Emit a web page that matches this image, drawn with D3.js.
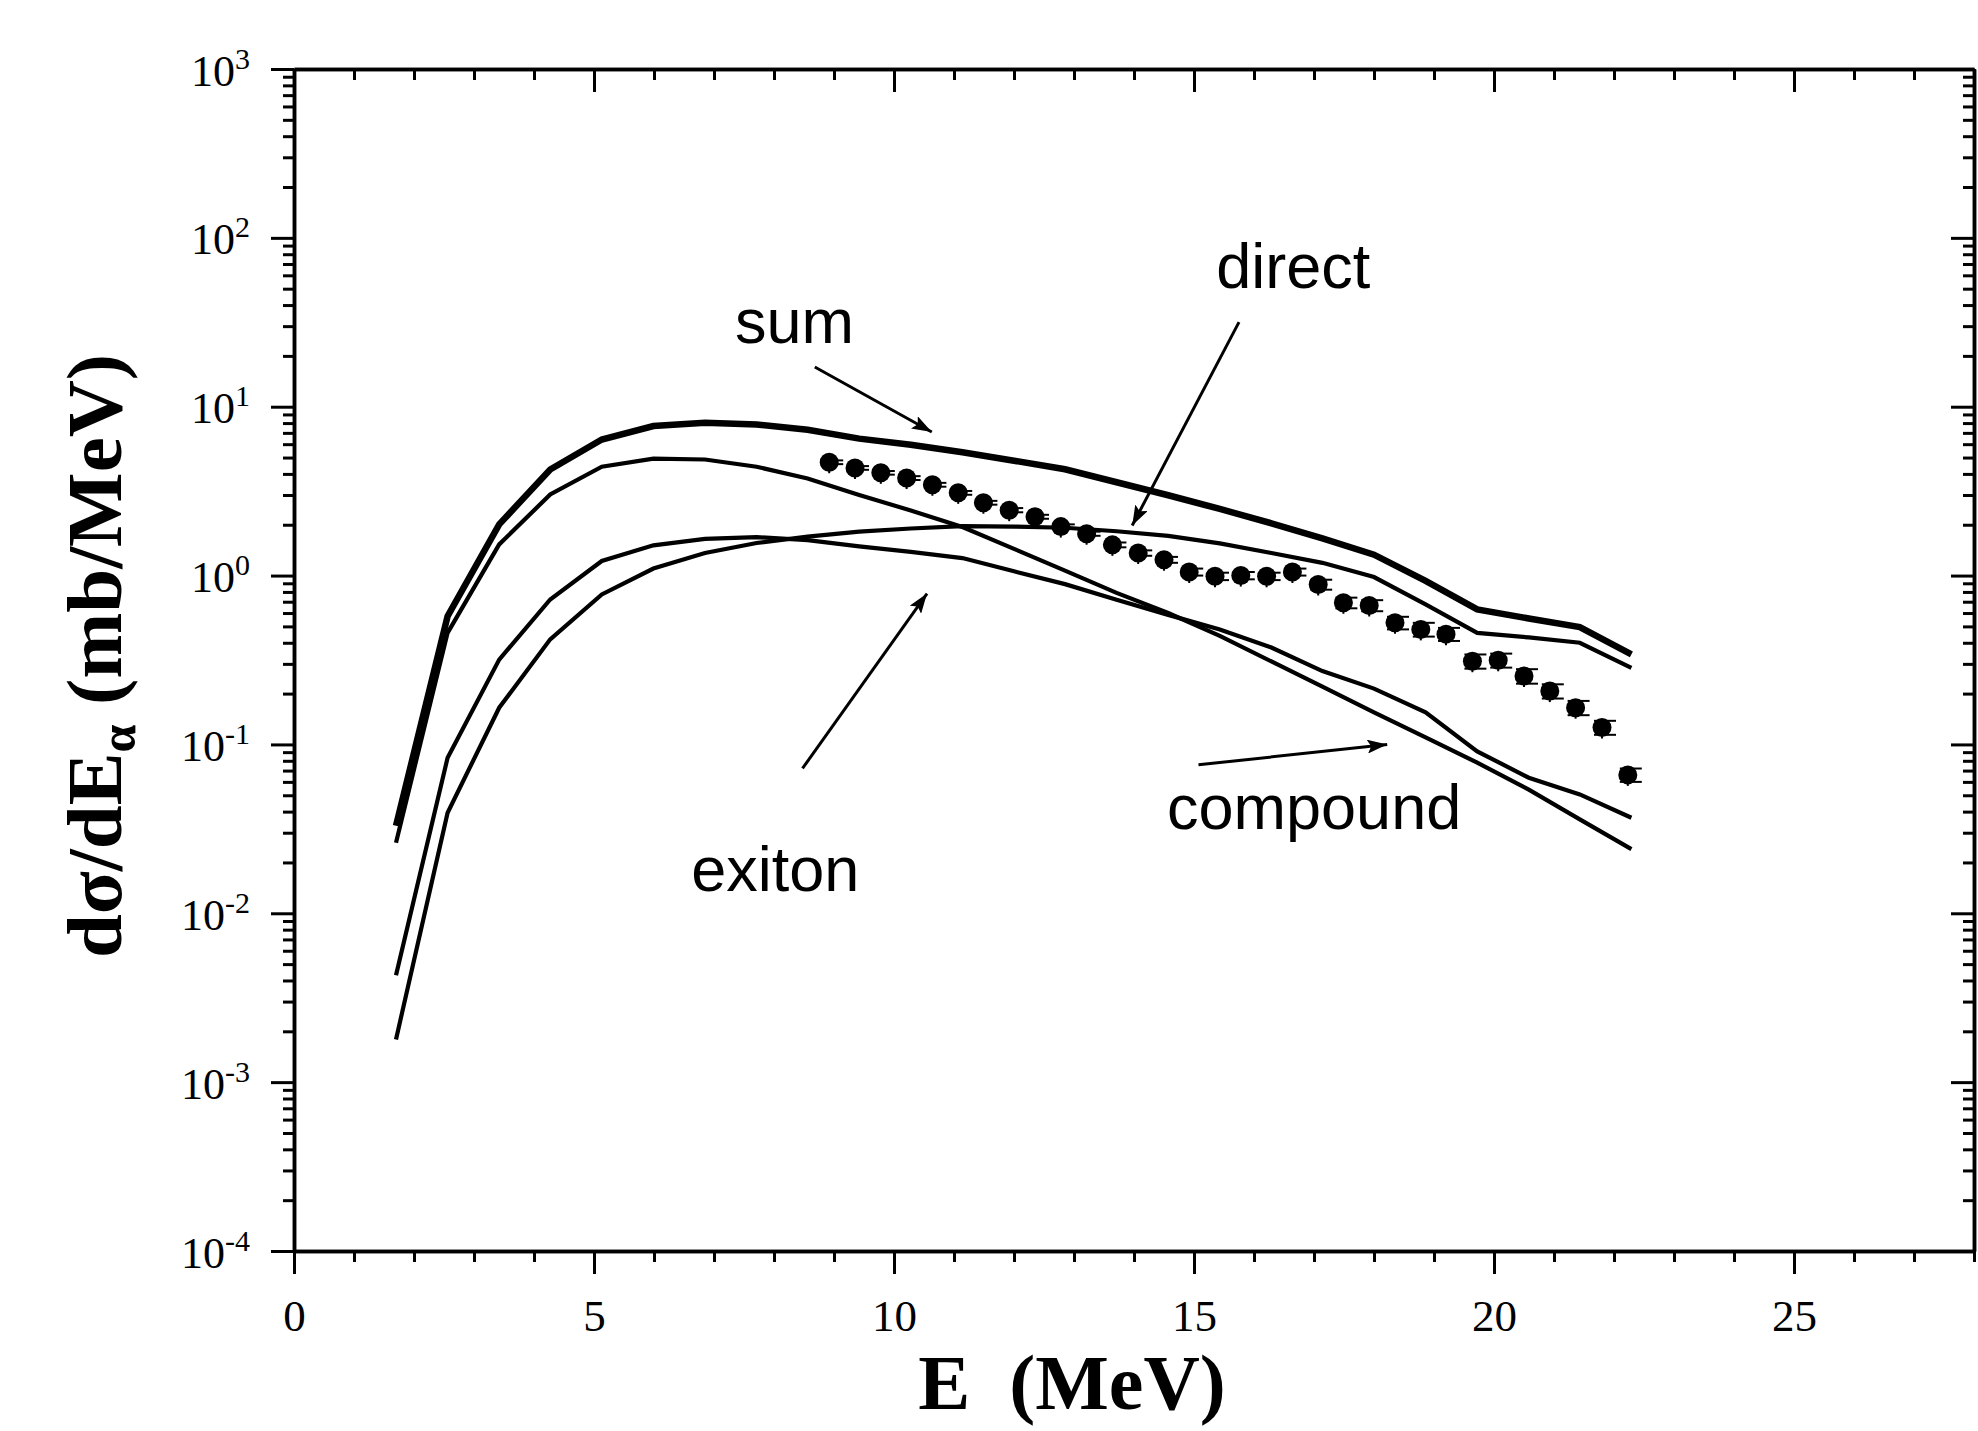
<!DOCTYPE html>
<html>
<head>
<meta charset="utf-8">
<script src="https://cdn.jsdelivr.net/npm/d3@7/dist/d3.min.js"></script>
<style>
    body { margin: 0; background: #fff; }
    #chart { width: 1978px; height: 1431px; }
    .axis path, .axis line { stroke: #000; }
    .axis path { stroke-width: 3.5; }
    .axis line { stroke-width: 3; }
    .axis text { font-family: "Liberation Serif", "Times New Roman", serif; fill: #000; }
    .note { font-family: "Liberation Sans", Arial, sans-serif; font-size: 63px; fill: #000; }
</style>
</head>
<body>
<div id="chart"></div>
<script>

// calculated spectra (alpha energy, MeV)
let energyCalc = [1.70, 2.56, 3.42, 4.27, 5.13, 5.99, 6.85, 7.71, 8.56, 9.42, 10.28, 11.14, 12.00,
    12.85, 13.71, 14.57, 15.43, 16.29, 17.14, 18.00, 18.86, 19.72, 20.58, 21.43, 22.29];

let sumCurve = [0.033, 0.575, 2.01, 4.25, 6.39, 7.68, 8.04, 7.85, 7.3, 6.47, 5.96, 5.37, 4.79,
    4.26, 3.57, 2.99, 2.48, 2.04, 1.66, 1.33, 0.93, 0.63, 0.557, 0.495, 0.341];

let compoundCurve = [0.0262, 0.458, 1.53, 3.02, 4.41, 4.93, 4.87, 4.41, 3.76, 3.0, 2.43, 1.94, 1.44,
    1.07, 0.79, 0.60, 0.44, 0.31, 0.22, 0.155, 0.11, 0.078, 0.054, 0.036, 0.024];

let exitonCurve = [0.00429, 0.0834, 0.318, 0.722, 1.22, 1.51, 1.65, 1.69, 1.62, 1.49, 1.38, 1.27, 1.06,
    0.89, 0.72, 0.585, 0.48, 0.375, 0.272, 0.214, 0.155, 0.091, 0.0635, 0.0506, 0.0368];

let directCurve = [0.00179, 0.0394, 0.165, 0.419, 0.773, 1.10, 1.36, 1.56, 1.70, 1.82, 1.90, 1.96, 1.95,
    1.92, 1.83, 1.72, 1.55, 1.36, 1.19, 0.98, 0.676, 0.458, 0.43, 0.40, 0.284];

// measured points
let energyExp = [8.92, 9.35, 9.78, 10.21, 10.64, 11.07, 11.49, 11.92, 12.35, 12.78, 13.21, 13.64, 14.07,
    14.50, 14.92, 15.35, 15.78, 16.21, 16.64, 17.07, 17.49, 17.92, 18.35, 18.78, 19.20, 19.64, 20.07,
    20.50, 20.93, 21.36, 21.80, 22.23];

let sigmaExp = [4.69, 4.34, 4.06, 3.78, 3.45, 3.09, 2.70, 2.44, 2.23, 1.95, 1.77, 1.52, 1.36, 1.24,
    1.05, 0.99, 1.00, 0.99, 1.05, 0.885, 0.69, 0.665, 0.525, 0.48, 0.45, 0.311, 0.315, 0.254, 0.207,
    0.165, 0.126, 0.066];

let sigmaErr = [0.12, 0.11, 0.10, 0.10, 0.09, 0.08, 0.07, 0.07, 0.06, 0.06, 0.05, 0.05, 0.05, 0.05,
    0.05, 0.05, 0.05, 0.05, 0.05, 0.06, 0.05, 0.05, 0.045, 0.045, 0.04, 0.03, 0.03, 0.025, 0.02,
    0.016, 0.012, 0.006];

// tick labels
let xTickLabels = [0, 5, 10, 15, 20, 25];
let yTickExponents = [-4, -3, -2, -1, 0, 1, 2, 3];

// annotation text and arrows, in data units
let noteLabels = [
    {text: "sum", e: 7.35, v: 24.0},
    {text: "direct", e: 15.37, v: 50.5},
    {text: "compound", e: 14.55, v: 0.0314},
    {text: "exiton", e: 6.62, v: 0.0135}
];
let noteArrows = [
    {e0: 8.68, v0: 17.2, e1: 10.63, v1: 7.08},
    {e0: 15.75, v0: 31.7, e1: 13.97, v1: 1.98},
    {e0: 8.475, v0: 0.0721, e1: 10.55, v1: 0.783},
    {e0: 15.075, v0: 0.0757, e1: 18.22, v1: 0.1}
];


class SpectrumVis {

    constructor(parentElement) {
        this.parentElement = parentElement;
        this.initVis();
    }

    initVis() {
        let vis = this;
        vis.margin = {top: 69, right: 4, bottom: 180, left: 294};
        vis.width = 1978 - vis.margin.left - vis.margin.right;
        vis.height = 1431 - vis.margin.top - vis.margin.bottom;

        let root = d3.select("#" + vis.parentElement).append("svg")
            .attr("width", 1978)
            .attr("height", 1431);

        root.append("defs").append("marker")
            .attr("id", "head")
            .attr("markerUnits", "userSpaceOnUse")
            .attr("viewBox", "0 0 20 14")
            .attr("refX", 20).attr("refY", 7)
            .attr("markerWidth", 20).attr("markerHeight", 14)
            .attr("orient", "auto")
            .append("path")
            .attr("d", "M0,0 L20,7 L0,14 L4,7 Z")
            .attr("fill", "#000");

        vis.svg = root.append("g")
            .attr("transform", `translate(${vis.margin.left}, ${vis.margin.top})`);

        vis.x = d3.scaleLinear().domain([0, 28]).range([0, vis.width]);
        vis.y = d3.scaleLog().domain([1e-4, 1e3]).range([vis.height, 0]);

        vis.xMinor = d3.range(0, 29).filter(d => d % 5 !== 0);
        vis.yMajor = yTickExponents.map(k => Math.pow(10, k));
        vis.yMinor = [];
        yTickExponents.slice(0, -1).forEach(k => {
            for (let m = 2; m <= 9; m++) vis.yMinor.push(m * Math.pow(10, k));
        });

        vis.drawAxes();
        vis.wrangleData();
    }

    drawAxes() {
        let vis = this;

        // bottom
        vis.svg.append("g").attr("class", "axis")
            .attr("transform", `translate(0, ${vis.height})`)
            .call(d3.axisBottom(vis.x).tickValues(vis.xMinor).tickSize(11).tickSizeOuter(0).tickFormat(""));
        let xb = vis.svg.append("g").attr("class", "axis")
            .attr("transform", `translate(0, ${vis.height})`)
            .call(d3.axisBottom(vis.x).tickValues(xTickLabels).tickSize(23).tickSizeOuter(0).tickFormat(d => d));
        xb.selectAll("text")
            .attr("y", 80).attr("dy", 0)
            .style("font-size", "45px");

        // top (inward)
        vis.svg.append("g").attr("class", "axis")
            .call(d3.axisTop(vis.x).tickValues(vis.xMinor).tickSize(-11).tickSizeOuter(0).tickFormat(""));
        vis.svg.append("g").attr("class", "axis")
            .call(d3.axisTop(vis.x).tickValues(xTickLabels).tickSize(-23).tickSizeOuter(0).tickFormat(""));

        // left
        vis.svg.append("g").attr("class", "axis")
            .call(d3.axisLeft(vis.y).tickValues(vis.yMinor).tickSize(11).tickSizeOuter(0).tickFormat(""));
        let yl = vis.svg.append("g").attr("class", "axis")
            .call(d3.axisLeft(vis.y).tickValues(vis.yMajor).tickSize(23).tickSizeOuter(0).tickFormat(""));
        yl.selectAll(".tick").append("text")
            .attr("x", -44)
            .attr("y", 16)
            .attr("text-anchor", "end")
            .style("font-size", "44px")
            .each(function (d) {
                let t = d3.select(this);
                t.append("tspan").text("10");
                t.append("tspan")
                    .attr("dy", -17)
                    .style("font-size", "30px")
                    .text(Math.round(Math.log10(d)));
            });

        // right (inward)
        vis.svg.append("g").attr("class", "axis")
            .attr("transform", `translate(${vis.width}, 0)`)
            .call(d3.axisRight(vis.y).tickValues(vis.yMinor).tickSize(-11).tickSizeOuter(0).tickFormat(""));
        vis.svg.append("g").attr("class", "axis")
            .attr("transform", `translate(${vis.width}, 0)`)
            .call(d3.axisRight(vis.y).tickValues(vis.yMajor).tickSize(-23).tickSizeOuter(0).tickFormat(""));

        // axis titles
        vis.svg.append("text")
            .attr("x", 778).attr("y", 1340)
            .attr("text-anchor", "middle")
            .style("font-family", "'Liberation Serif', 'Times New Roman', serif")
            .style("font-weight", "bold")
            .style("font-size", "78px")
            .attr("xml:space", "preserve")
            .text("E  (MeV)");

        let yt = vis.svg.append("text")
            .attr("transform", `translate(${121 - vis.margin.left}, ${vis.height / 2 - 4}) rotate(-90)`)
            .attr("text-anchor", "middle")
            .style("font-family", "'Liberation Serif', 'Times New Roman', serif")
            .style("font-weight", "bold")
            .style("font-size", "79px");
        yt.append("tspan").text("d\u03c3/dE");
        yt.append("tspan").attr("dy", 14).style("font-size", "50px").text("\u03b1");
        yt.append("tspan").attr("dy", -14).text(" (mb/MeV)");
    }

    wrangleData() {
        let vis = this;

        vis.curves = [
            {name: "sum", values: sumCurve, width: 6.5},
            {name: "compound", values: compoundCurve, width: 4.2},
            {name: "exiton", values: exitonCurve, width: 4.2},
            {name: "direct", values: directCurve, width: 4.2}
        ].map(c => ({
            name: c.name,
            width: c.width,
            points: energyCalc.map((e, i) => ({e: e, v: c.values[i]}))
        }));

        vis.points = energyExp.map((e, i) => ({e: e, v: sigmaExp[i], err: sigmaErr[i]}));

        vis.updateVis();
    }

    updateVis() {
        let vis = this;

        let line = d3.line()
            .x(d => vis.x(d.e))
            .y(d => vis.y(d.v));

        vis.svg.selectAll(".curve")
            .data(vis.curves)
            .enter()
            .append("path")
            .attr("class", "curve")
            .attr("d", d => line(d.points))
            .attr("fill", "none")
            .attr("stroke", "#000")
            .attr("stroke-width", d => d.width)
            .attr("stroke-linejoin", "miter");

        // error bars
        let bars = vis.svg.selectAll(".ebar")
            .data(vis.points)
            .enter()
            .append("g")
            .attr("class", "ebar")
            .attr("stroke", "#000")
            .attr("stroke-width", 2);
        bars.append("line")
            .attr("x1", d => vis.x(d.e)).attr("x2", d => vis.x(d.e))
            .attr("y1", d => vis.y(d.v + d.err))
            .attr("y2", d => Math.max(vis.y(d.v - d.err), vis.y(d.v) + 11));
        bars.append("line")
            .attr("x1", d => vis.x(d.e) - 8).attr("x2", d => vis.x(d.e) + 14)
            .attr("y1", d => vis.y(d.v + d.err)).attr("y2", d => vis.y(d.v + d.err));
        bars.append("line")
            .attr("x1", d => vis.x(d.e) - 8).attr("x2", d => vis.x(d.e) + 14)
            .attr("y1", d => vis.y(d.v - d.err)).attr("y2", d => vis.y(d.v - d.err));

        vis.svg.selectAll(".dot")
            .data(vis.points)
            .enter()
            .append("circle")
            .attr("class", "dot")
            .attr("cx", d => vis.x(d.e))
            .attr("cy", d => vis.y(d.v))
            .attr("r", 9.5)
            .attr("fill", "#000");

        // labels and arrows
        vis.svg.selectAll(".note")
            .data(noteLabels)
            .enter()
            .append("text")
            .attr("class", "note")
            .attr("x", d => vis.x(d.e))
            .attr("y", d => vis.y(d.v))
            .text(d => d.text);

        vis.svg.selectAll(".arrow")
            .data(noteArrows)
            .enter()
            .append("line")
            .attr("class", "arrow")
            .attr("x1", d => vis.x(d.e0)).attr("y1", d => vis.y(d.v0))
            .attr("x2", d => vis.x(d.e1)).attr("y2", d => vis.y(d.v1))
            .attr("stroke", "#000")
            .attr("stroke-width", 3)
            .attr("marker-end", "url(#head)");
    }
}

let mySpectrumVis = new SpectrumVis("chart");

</script>
</body>
</html>
